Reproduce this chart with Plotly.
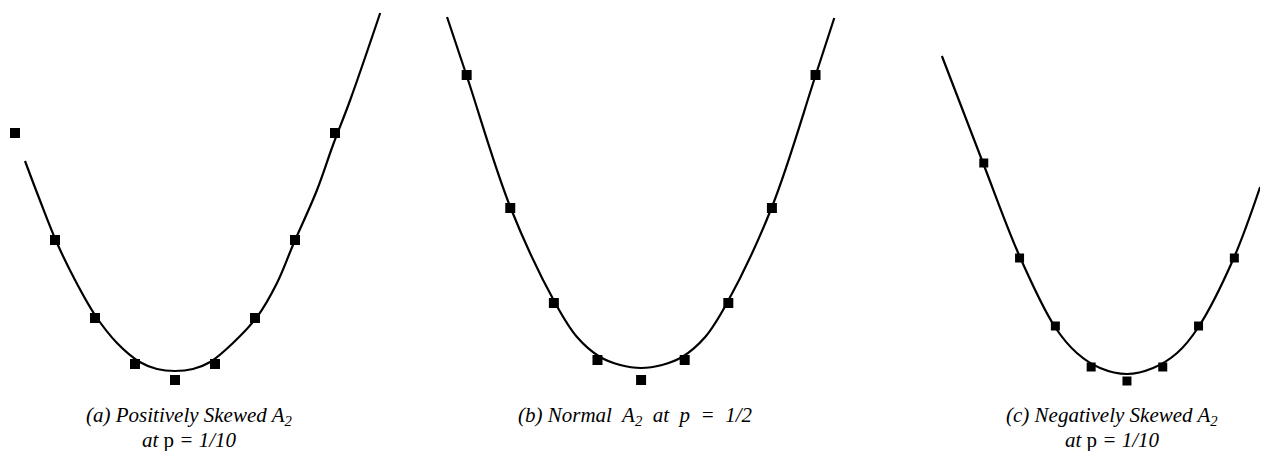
import plotly.graph_objects as go

# common step positions of the sample points
steps = [-4, -3, -2, -1, 0, 1, 2, 3, 4]

# (a) positively skewed
pos_pts = [26.2, 15.5, 7.7, 3.1, 1.5, 3.1, 7.7, 15.5, 26.2]
pos_curve_x = [-3.75, -3.38, -2.95, -2.5, -2.0, -1.45, -0.88, -0.45, 0.0,
               0.45, 0.88, 1.45, 2.05, 2.55, 2.95, 3.55, 3.95, 4.38, 5.13]
pos_curve_y = [23.4, 19.5, 15.2, 11.5, 8.0, 5.2, 3.3, 2.6, 2.4,
               2.6, 3.3, 5.2, 7.8, 11.2, 15.0, 20.5, 25.0, 29.5, 38.2]

# (b) normal
norm_pts = [32.0, 18.7, 9.2, 3.5, 1.5, 3.5, 9.2, 18.7, 32.0]
norm_curve_x = [-4.45, -3.99, -3.0, -1.97, -1.47, -0.94, -0.48, 0.0,
                0.48, 0.94, 1.47, 1.97, 3.0, 3.99, 4.43]
norm_curve_y = [37.8, 31.8, 18.8, 9.2, 5.8, 3.8, 3.0, 2.7,
                3.0, 3.8, 5.8, 9.2, 18.8, 31.8, 37.7]

# (c) negatively skewed
neg_pts = [23.2, 13.7, 6.9, 2.8, 1.4, 2.8, 6.9, 13.7, 23.2]
neg_curve_x = [-5.17, -4.02, -2.99, -2.01, -1.4, -0.75, 0.0,
               0.73, 1.4, 1.98, 2.96, 3.72]
neg_curve_y = [33.9, 23.2, 13.8, 6.8, 4.2, 2.7, 2.1,
               2.7, 4.2, 6.7, 13.5, 20.8]

captions = [
    ["<i>(a) Positively Skewed A<sub>2</sub></i>", "<i>at </i>p<i> = 1/10</i>"],
    ["<i>(b) Normal  A<sub>2</sub>  at  p  =  1/2</i>"],
    ["<i>(c) Negatively Skewed A<sub>2</sub></i>", "<i>at </i>p<i> = 1/10</i>"],
]

W, H = 1260, 443
PLOT_H = 387

panels = [
    (pos_pts, pos_curve_x, pos_curve_y, [0, 402], [-4.175, 5.875], 181, 10),
    (norm_pts, norm_curve_x, norm_curve_y, [412, 852], [-5.07, 5.02], 627, 10),
    (neg_pts, neg_curve_x, neg_curve_y, [892, 1260], [-6.34, 3.94], 1104, 9),
]

fig = go.Figure()
annotations = []
for i, (pts, cx, cy, dom, xr, cap_x, msize) in enumerate(panels):
    n = "" if i == 0 else str(i + 1)
    fig.add_trace(go.Scatter(x=cx, y=cy, mode="lines",
                             line=dict(color="black", width=2.2, shape="spline", smoothing=1),
                             xaxis="x" + n, yaxis="y" + n, showlegend=False, hoverinfo="skip"))
    fig.add_trace(go.Scatter(x=steps, y=pts, mode="markers",
                             marker=dict(symbol="square", size=msize, color="black"),
                             xaxis="x" + n, yaxis="y" + n, showlegend=False))
    fig.layout["xaxis" + n] = dict(domain=[dom[0] / W, dom[1] / W], range=xr,
                                   visible=False, anchor="y" + n)
    fig.layout["yaxis" + n] = dict(domain=[0, 1], range=[0, 38.7], visible=False,
                                   anchor="x" + n)
    for j, line in enumerate(captions[i]):
        fy = 408 + j * 24
        annotations.append(dict(text=line, x=cap_x / W, xref="paper", xanchor="center",
                                y=(PLOT_H - fy) / PLOT_H, yref="paper", yanchor="middle",
                                showarrow=False,
                                font=dict(family="Liberation Serif", size=21, color="black")))

fig.update_layout(
    width=W, height=H,
    margin=dict(l=0, r=0, t=0, b=H - PLOT_H),
    plot_bgcolor="white", paper_bgcolor="white",
    annotations=annotations,
)

fig.write_html("out.html")
